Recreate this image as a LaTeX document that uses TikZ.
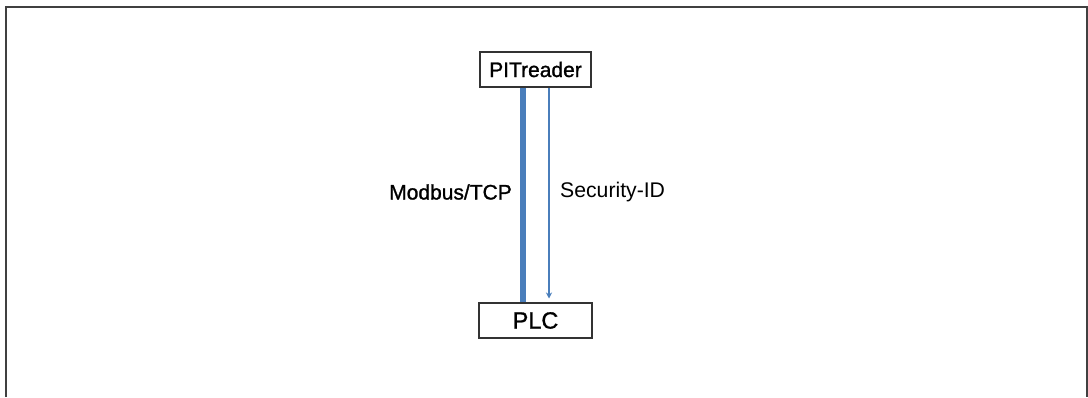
\documentclass[tikz,border=0pt]{standalone}
\usepackage{fontspec}
\setmainfont{Liberation Sans}
\newfontfamily\heavysans{Liberation Sans}[FakeBold=1.2]
\usetikzlibrary{arrows.meta}
\definecolor{linkblue}{HTML}{4A7EBB}
\definecolor{framegray}{HTML}{404040}
\tikzset{
  devbox/.style={draw=black!80, line width=1.2pt, rectangle, inner sep=0pt, fill=white},
  lbl/.style={inner sep=0pt, text=black},
}
\begin{document}
\begin{tikzpicture}[x=1pt,y=-1pt]
\useasboundingbox (0,0) rectangle (1088,397);
\draw[framegray, line width=1.5pt] (6,397) -- (6,7) -- (1087,7) -- (1087,397);
\node[devbox, minimum width=111pt, minimum height=35pt, font=\heavysans\fontsize{21}{24}\selectfont] (pit) at (535.5,69.5) {PITreader};
\node[devbox, minimum width=113pt, minimum height=35pt, font=\heavysans\fontsize{23.5}{27}\selectfont] (plc) at (535.5,320.5) {PLC};
\coordinate (thickx) at (523.3,0);
\coordinate (thinx) at (549,0);
\coordinate (arrowend) at (549,298.5);
\draw[linkblue, line width=6pt] (pit.south -| thickx) -- (plc.north -| thickx);
\draw[linkblue, line width=2.3pt, -{Stealth[length=6pt,width=6pt]}] (pit.south -| thinx) -- (arrowend);
\node[lbl, anchor=east, font=\heavysans\fontsize{21}{24}\selectfont] (modbus) at (512,192) {Modbus/TCP};
\node[lbl, anchor=west, font=\fontsize{21.2}{24}\selectfont] (secid) at (560,192) {Security-ID};
\end{tikzpicture}
\end{document}
